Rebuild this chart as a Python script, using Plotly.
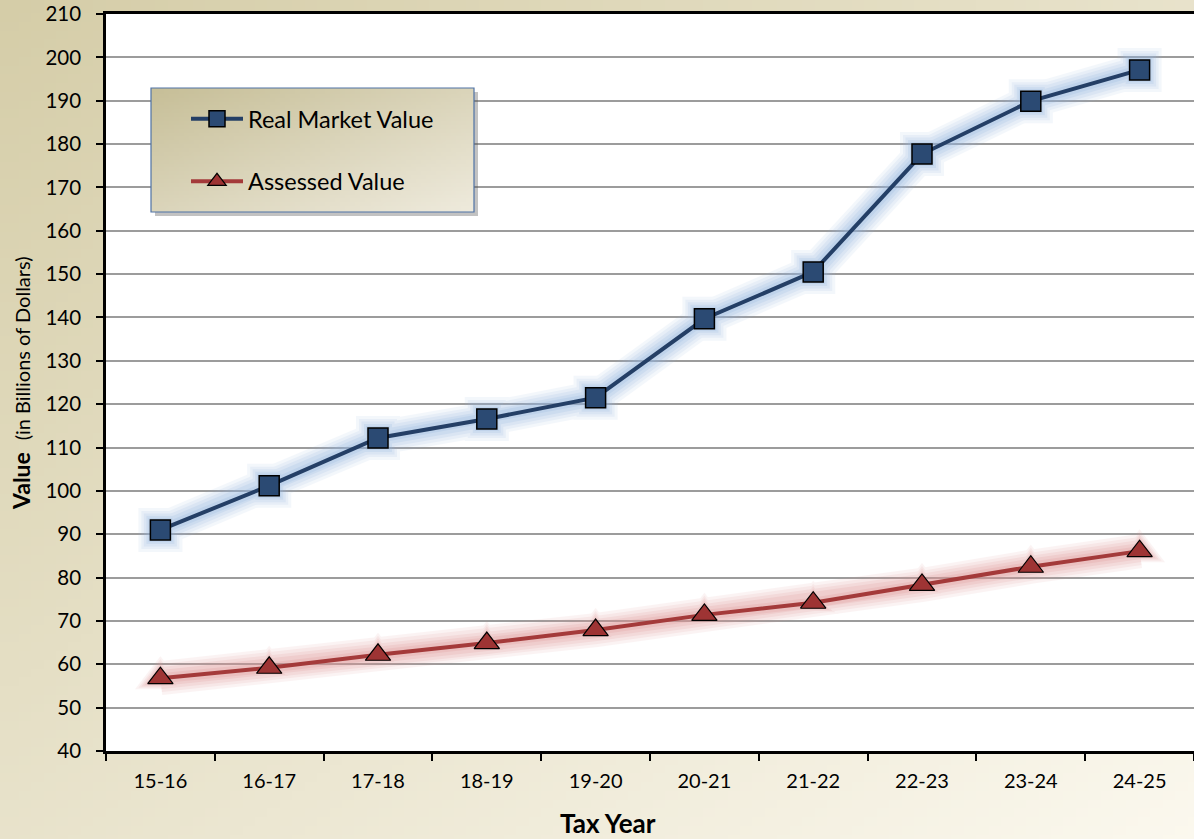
import base64
import struct
import zlib

import plotly.graph_objects as go

# ---- data -----------------------------------------------------------------
tax_years = ["15-16", "16-17", "17-18", "18-19", "19-20",
             "20-21", "21-22", "22-23", "23-24", "24-25"]
real_market_value = [91.0, 101.2, 112.2, 116.6, 121.5,
                     139.7, 150.5, 177.7, 189.9, 197.1]
assessed_value = [56.8, 59.2, 62.2, 64.9, 67.9,
                  71.4, 74.2, 78.3, 82.5, 86.1]
y_ticks = list(range(40, 211, 10))

# ---- helpers ----------------------------------------------------------------
def gradient_png(w, h, c0, c1):
    """Diagonal two-colour gradient encoded as a PNG data URI."""
    rows = []
    for j in range(h):
        row = bytearray([0])
        for i in range(w):
            t = (i / (w - 1) + j / (h - 1)) / 2
            for k in range(3):
                row.append(int(round(c0[k] + (c1[k] - c0[k]) * t)))
        rows.append(bytes(row))
    raw = b"".join(rows)

    def chunk(tag, data):
        c = tag + data
        return struct.pack(">I", len(data)) + c + struct.pack(">I", zlib.crc32(c) & 0xFFFFFFFF)

    png = (b"\x89PNG\r\n\x1a\n"
           + chunk(b"IHDR", struct.pack(">IIBBBBB", w, h, 8, 2, 0, 0, 0))
           + chunk(b"IDAT", zlib.compress(raw, 9))
           + chunk(b"IEND", b""))
    return "data:image/png;base64," + base64.b64encode(png).decode()


W, H = 1194, 839
ML, MR, MT, MB = 106, 0, 14, 88
PW, PH = W - ML - MR, H - MT - MB


def px(x):
    return (x - ML) / PW


def py(y):
    return 1 - (y - MT) / PH


FONT = "Lato"
BLUE = "#243f66"
BLUE_FILL = "#2b4a73"
RED = "#a43a3a"
RED_FILL = "#9e3434"

fig = go.Figure()

# soft halo under each series, built from stacked translucent strokes
halo_steps = [(34, 44, 0.10), (28, 38, 0.12), (22, 33, 0.15), (16, 28, 0.18), (10, 24, 0.22)]
for vals, glow, sym in [(real_market_value, "#93b4e0", "square"),
                        (assessed_value, "#de9494", "triangle-up")]:
    for width, msize, op in halo_steps:
        fig.add_trace(go.Scatter(
            x=tax_years, y=vals, mode="lines+markers",
            line=dict(color=glow, width=width),
            marker=dict(symbol=sym, size=msize, color=glow, line=dict(width=0)),
            opacity=op, showlegend=False, hoverinfo="skip"))

fig.add_trace(go.Scatter(
    x=tax_years, y=real_market_value, mode="lines+markers",
    name="Real Market Value", legendgroup="rmv",
    line=dict(color=BLUE, width=4),
    marker=dict(symbol="square", size=20, color=BLUE_FILL,
                line=dict(color="#000000", width=1.5))))

fig.add_trace(go.Scatter(
    x=tax_years, y=assessed_value, mode="lines+markers",
    name="Assessed Value", legendgroup="av",
    line=dict(color=RED, width=4),
    marker=dict(symbol="triangle-up", size=22, color=RED_FILL,
                line=dict(color="#000000", width=1.2))))

# plot-area fill over the page gradient
lx0, lx1, ly0, ly1 = 151, 474, 88, 212
shapes = [
    dict(type="rect", xref="paper", yref="paper", x0=0, x1=1, y0=0, y1=1,
         fillcolor="#ffffff", line=dict(width=0), layer="below"),
    # legend drop shadow (right and bottom strips)
    dict(type="rect", xref="paper", yref="paper",
         x0=px(lx1), x1=px(lx1 + 4), y0=py(ly1 + 4), y1=py(ly0 + 4),
         fillcolor="rgba(80,80,80,0.35)", line=dict(width=0), layer="above"),
    dict(type="rect", xref="paper", yref="paper",
         x0=px(lx0 + 4), x1=px(lx1), y0=py(ly1 + 4), y1=py(ly1),
         fillcolor="rgba(80,80,80,0.35)", line=dict(width=0), layer="above"),
    # legend border
    dict(type="rect", xref="paper", yref="paper",
         x0=px(lx0), x1=px(lx1), y0=py(ly1), y1=py(ly0),
         fillcolor="rgba(0,0,0,0)", line=dict(color="#4f72a6", width=1.2),
         layer="above"),
]
images = [
    dict(source=gradient_png(96, 96, (213, 205, 168), (251, 248, 238)),
         xref="paper", yref="paper", x=px(0), y=py(0),
         sizex=W / PW, sizey=H / PH, sizing="stretch", layer="below"),
    dict(source=gradient_png(64, 32, (199, 191, 152), (238, 234, 220)),
         xref="paper", yref="paper", x=px(lx0), y=py(ly0),
         sizex=(lx1 - lx0) / PW, sizey=(ly1 - ly0) / PH,
         sizing="stretch", layer="above"),
]

fig.update_layout(
    width=W, height=H,
    margin=dict(l=ML, r=MR, t=MT, b=MB),
    paper_bgcolor="#e4dfc6",
    plot_bgcolor="#ffffff",
    font=dict(family=FONT, color="#000000"),
    images=images,
    shapes=shapes,
    legend=dict(
        x=px(186), y=py(97), xanchor="left", yanchor="top",
        bgcolor="rgba(0,0,0,0)", borderwidth=0,
        font=dict(size=23.5, family=FONT, color="#000000"),
        tracegroupgap=29, itemwidth=52,
    ),
    annotations=[
        dict(text="<b>Tax Year</b>", xref="paper", yref="paper",
             x=px(608), y=py(823), xanchor="center", yanchor="middle",
             showarrow=False, font=dict(size=26, family=FONT)),
        dict(text="<b>Value</b>  <span style='font-size:20px'>(in Billions of Dollars)</span>",
             xref="paper", yref="paper", textangle=-90,
             x=px(21), y=py(383), xanchor="center", yanchor="middle",
             showarrow=False, font=dict(size=23, family=FONT)),
    ],
)

fig.update_xaxes(
    type="category", categoryorder="array", categoryarray=tax_years,
    range=[-0.5, len(tax_years) - 0.5], autorange=False,
    showline=True, linecolor="#000000", linewidth=2.5, mirror=True,
    ticks="outside", tickson="boundaries", ticklen=7, tickwidth=2,
    tickcolor="#000000", showgrid=False, ticklabelstandoff=10,
    tickfont=dict(size=20, family=FONT), zeroline=False,
)
fig.update_yaxes(
    range=[40, 210], autorange=False, tickvals=y_ticks,
    showline=True, linecolor="#000000", linewidth=2.5,
    ticks="outside", ticklen=7, tickwidth=2, tickcolor="#000000",
    showgrid=True, gridcolor="#9c9c9c", gridwidth=2, ticklabelstandoff=11,
    tickfont=dict(size=20.5, family=FONT), zeroline=False,
)

fig.write_html("out.html")
